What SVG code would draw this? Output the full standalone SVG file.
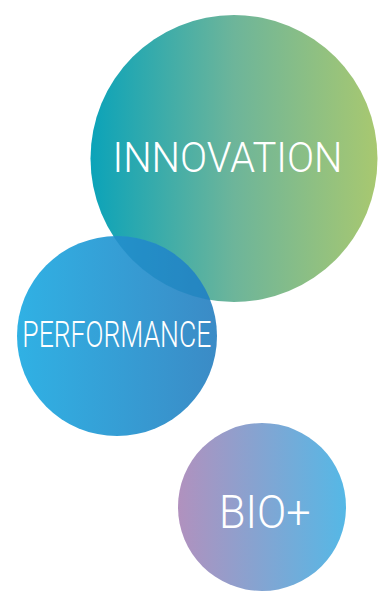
<svg xmlns="http://www.w3.org/2000/svg" width="382" height="595" viewBox="0 0 382 595">
<defs>
<linearGradient id="gInno" x1="0" y1="0" x2="1" y2="0">
<stop offset="0" stop-color="#0ba3b9"/>
<stop offset="0.5" stop-color="#6db59a"/>
<stop offset="1" stop-color="#a8c870"/>
</linearGradient>
<linearGradient id="gPerf" x1="0" y1="0" x2="1" y2="0">
<stop offset="0" stop-color="#30b1e4"/>
<stop offset="1" stop-color="#3b8bc6"/>
</linearGradient>
<linearGradient id="gBio" x1="0" y1="0" x2="1" y2="0">
<stop offset="0" stop-color="#b191be"/>
<stop offset="1" stop-color="#55b8e6"/>
</linearGradient>
<clipPath id="clipPerf">
<circle cx="117" cy="336" r="100"/>
</clipPath>
</defs>
<style>
.lbl{fill:#ffffff;font-family:Roboto,"Liberation Sans",sans-serif;font-weight:300;}
</style>
<rect width="382" height="595" fill="#ffffff"/>
<g id="innovation">
<circle cx="234" cy="158.5" r="143.5" fill="url(#gInno)"/>
<text class="lbl" x="112.5" y="172.3" font-size="42" textLength="230" lengthAdjust="spacingAndGlyphs">INNOVATION</text>
</g>
<g id="performance">
<circle cx="117" cy="336" r="100" fill="url(#gPerf)"/>
<circle cx="234" cy="158.5" r="143.5" fill="#0077b5" opacity="0.35" clip-path="url(#clipPerf)"/>
<text class="lbl" x="22.3" y="347.3" font-size="37" textLength="189" lengthAdjust="spacingAndGlyphs">PERFORMANCE</text>
</g>
<g id="bio">
<circle cx="262" cy="507" r="84" fill="url(#gBio)"/>
<text class="lbl" x="219" y="527.7" font-size="46" textLength="91.5" lengthAdjust="spacingAndGlyphs">BIO+</text>
</g>
<g id="connectors"/>
</svg>
